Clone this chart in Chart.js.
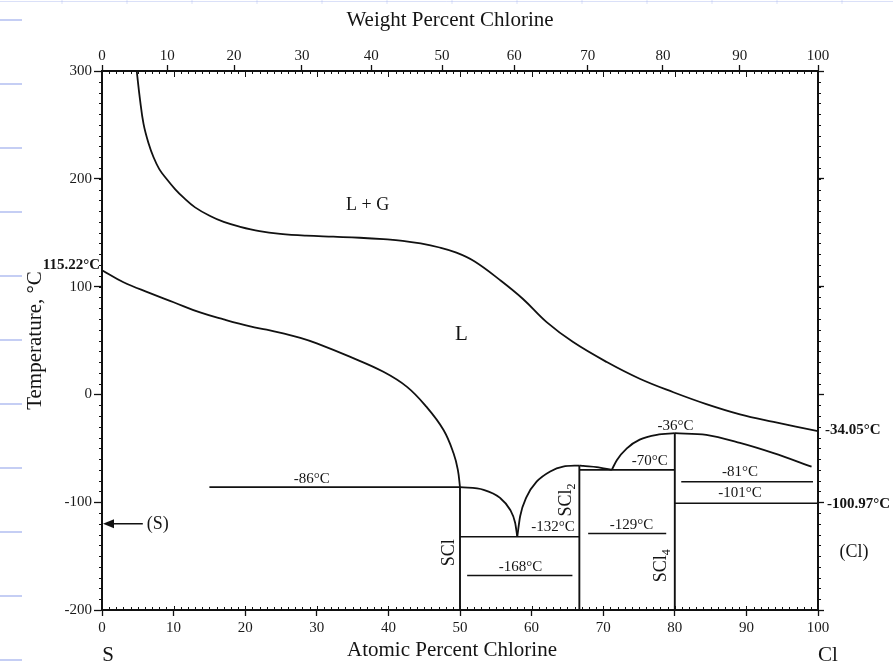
<!DOCTYPE html>
<html>
<head>
<meta charset="utf-8">
<script src="https://cdn.jsdelivr.net/npm/chart.js@4"></script>
<style>
html,body{margin:0;padding:0;background:#fff;}
#wrap{width:893px;height:666px;position:relative;}
</style>
</head>
<body>
<div id="wrap"><canvas id="c" width="893" height="666"></canvas></div>
<script>
// ---------- axis values ----------
const atomicRange = [0, 100];
const tempRange = [-200, 300];
const weightTickLabels = ['0','10','20','30','40','50','60','70','80','90','100'];
const weightTickAtomic = [0, 9.13, 18.44, 27.93, 37.62, 47.49, 57.57, 67.85, 78.35, 89.06, 100];

// ---------- curves (atomic % Cl, temperature °C) ----------
const gasLiquidusX = [4.85, 5.3, 5.8, 6.5, 7.2, 8.0, 9.0, 10.2, 11.4, 13.0, 15.1, 17.0, 19.3, 22.0, 24.9, 28.5, 32.3, 36.0, 39.3, 42.0, 44.5, 47.0, 49.5, 52.0, 55.6, 58.8, 62.1, 65.8, 70.5, 75.1, 79.8, 84.4, 89.1, 93.8, 100];
const gasLiquidusT = [300, 274, 251, 233, 220, 209, 200, 190.5, 182.5, 173.5, 165.5, 160, 155.5, 151.5, 149, 147.3, 146.3, 145.3, 144, 142.5, 140, 136.5, 131.5, 123.5, 106, 88.5, 67, 48.5, 30, 14.5, 2, -9, -18.5, -25.5, -34.05];

const sLiquidusX = [0, 3, 6.7, 10, 13.7, 17, 20.7, 23, 25.3, 27.7, 30, 34.6, 39.3, 42.6, 45.3, 47.7, 49.1, 49.7, 50];
const sLiquidusT = [115.22, 104, 94, 85.5, 76, 69.5, 63, 60, 56.5, 52.5, 47.4, 35, 21, 7, -11.4, -33, -54.6, -70, -86];

const sclLiquidusX = [50, 53.3, 55.6, 57.0, 57.7, 58.0];
const sclLiquidusT = [-86, -88.5, -96, -107, -119, -132];

const scl2LiquidusX = [58.0, 58.4, 59.3, 60.7, 62.6, 64.4, 66.67];
const scl2LiquidusT = [-132, -113, -95, -81, -71.5, -67, -66];

const periLiquidusX = [66.67, 67.2, 69.1, 71.2];
const periLiquidusT = [-66, -66.4, -67.5, -70];

const scl4LiquidusX = [71.2, 71.9, 73.3, 75.1, 77.5, 80];
const scl4LiquidusT = [-70, -61, -50, -42, -37.5, -36];

const clLiquidusX = [80, 84.4, 89.1, 93.8, 99.1];
const clLiquidusT = [-36, -37.5, -45, -54.5, -67];

// ---------- invariant lines ----------
const isothermT    = [-86, -132, -168, -129, -70, -81, -101];
const isothermFrom = [15, 50, 51, 67.9, 66.67, 80.9, 80];
const isothermTo   = [50, 66.67, 65.7, 78.8, 80, 99.3, 100];

const compoundNames = ['SCl', 'SCl2', 'SCl4'];
const compoundX     = [50, 66.67, 80];
const compoundTopT  = [-86, -66, -36];

const pureMeltT = [115.22, -34.05];       // S and Cl boiling points
const clTransitionT = [-100.97];
const sArrowT = [-120];

// ---------- label placement (layout, in axis units) ----------
const isoLabelPos = [[29.3, -78.4], [63.0, -123], [58.45, -160], [73.95, -121.2], [76.5, -61.8], [89.1, -72.4], [89.1, -91.5]];
const compoundLabelPos = [[48.3, -147], [64.7, -98], [77.9, -159]];

const INK = '#111111';
const SERIF = "'Liberation Serif','Times New Roman',serif";
Chart.defaults.font.family = SERIF;
Chart.defaults.color = '#1a1a1a';

function pts(xs, ts) { return xs.map((x, i) => ({ x: x, y: ts[i] })); }
function curve(data, smooth) {
  const d = { data, showLine: true, borderColor: INK, borderWidth: 1.8, pointRadius: 0, pointHoverRadius: 0, fill: false };
  if (smooth) { d.tension = 0.4; } else { d.cubicInterpolationMode = 'monotone'; }
  return d;
}
function straight(data, w) {
  return { data, showLine: true, borderColor: INK, borderWidth: w || 1.6, pointRadius: 0, pointHoverRadius: 0,
           fill: false, tension: 0 };
}

const datasets = [
  curve(pts(gasLiquidusX, gasLiquidusT), true),
  curve(pts(sLiquidusX, sLiquidusT), true),
  curve(pts(sclLiquidusX, sclLiquidusT)),
  curve(pts(scl2LiquidusX, scl2LiquidusT)),
  curve(pts(periLiquidusX, periLiquidusT)),
  curve(pts(scl4LiquidusX, scl4LiquidusT)),
  curve(pts(clLiquidusX, clLiquidusT))
];
isothermT.forEach((t, i) => datasets.push(straight([{ x: isothermFrom[i], y: t }, { x: isothermTo[i], y: t }], 1.6)));
compoundX.forEach((x, i) => datasets.push(straight([{ x: x, y: tempRange[0] }, { x: x, y: compoundTopT[i] }], 1.9)));
// (S) arrow shaft
datasets.push(straight([{ x: 5.7, y: sArrowT[0] }, { x: 1.2, y: sArrowT[0] }], 1.6));

const decor = {
  id: 'decor',
  beforeDraw(chart) {
    const ctx = chart.ctx;
    ctx.save();
    ctx.fillStyle = '#fff';
    ctx.fillRect(0, 0, chart.width, chart.height);
    // faint notebook marks in the margin
    ctx.strokeStyle = 'rgba(150,165,235,0.55)';
    ctx.lineWidth = 2;
    for (let y = 20; y < chart.height; y += 64) {
      ctx.beginPath(); ctx.moveTo(0, y); ctx.lineTo(22, y); ctx.stroke();
    }
    ctx.lineWidth = 1;
    ctx.strokeStyle = 'rgba(150,165,235,0.35)';
    ctx.beginPath(); ctx.moveTo(0, 1.5); ctx.lineTo(chart.width, 1.5); ctx.stroke();
    for (let x = 62; x < chart.width; x += 65) {
      ctx.beginPath(); ctx.moveTo(x, 0); ctx.lineTo(x, 4); ctx.stroke();
    }
    ctx.restore();
  },
  afterDraw(chart) {
    const ctx = chart.ctx;
    const xs = chart.scales.x, ys = chart.scales.y, a = chart.chartArea;
    const X = v => xs.getPixelForValue(v), Y = v => ys.getPixelForValue(v);
    ctx.save();
    // minor ticks
    ctx.strokeStyle = INK; ctx.lineWidth = 1;
    const seg = (x1, y1, x2, y2) => { ctx.beginPath(); ctx.moveTo(x1, y1); ctx.lineTo(x2, y2); ctx.stroke(); };
    for (let v = atomicRange[0]; v <= atomicRange[1]; v++) {
      const px = Math.round(X(v)) + 0.5;
      const major = v % 10 === 0;
      seg(px, a.bottom, px, a.bottom - (major ? 4 : 3));
      seg(px, a.top, px, a.top + (major ? 6 : 3));
    }
    for (let t = tempRange[0]; t <= tempRange[1]; t += 10) {
      const py = Math.round(Y(t)) + 0.5;
      seg(a.left - 3, py, a.left + 1, py);
      seg(a.right - 1, py, a.right + 3, py);
    }
    // arrow head for (S)
    const ay = Y(sArrowT[0]);
    ctx.fillStyle = INK;
    ctx.beginPath(); ctx.moveTo(a.left + 1, ay); ctx.lineTo(a.left + 12, ay - 4.5); ctx.lineTo(a.left + 12, ay + 4.5); ctx.closePath(); ctx.fill();

    ctx.fillStyle = '#141414';
    const txt = (s, x, y, size, opt) => {
      opt = opt || {};
      ctx.font = (opt.bold ? 'bold ' : '') + size + 'px ' + SERIF;
      ctx.textAlign = opt.align || 'center';
      ctx.textBaseline = 'middle';
      ctx.fillText(s, x, y);
    };
    // axis titles
    txt('Weight Percent Chlorine', 450, 20, 21);
    txt('Atomic Percent Chlorine', 452, 650, 21);
    ctx.save();
    ctx.translate(35, (a.top + a.bottom) / 2);
    ctx.rotate(-Math.PI / 2);
    txt('Temperature, °C', 0, 0, 21);
    ctx.restore();
    txt('S', X(0) + 6, 655, 21);
    txt('Cl', X(100) + 10, 655, 21);

    // region labels
    txt('L + G', X(37.1), Y(175.7), 18);
    txt('L', X(50.2), Y(56), 21);
    txt('(S)', X(7.8), Y(sArrowT[0]) + 1, 18);
    txt('(Cl)', X(100) + 36, Y(-146), 18);

    // isotherm labels
    isothermT.forEach((t, i) => txt(t + '°C', X(isoLabelPos[i][0]), Y(isoLabelPos[i][1]), 15));
    txt(compoundTopT[2] + '°C', X(80.1), Y(-29.3), 15);

    // pure component temperatures
    txt(pureMeltT[0].toFixed(2) + '°C', a.left - 2, Y(pureMeltT[0]) - 5, 15, { bold: true, align: 'right' });
    txt(pureMeltT[1].toFixed(2) + '°C', a.right + 7, Y(pureMeltT[1]) - 1, 15, { bold: true, align: 'left' });
    txt(clTransitionT[0].toFixed(2) + '°C', a.right + 9, Y(clTransitionT[0]) + 1, 15, { bold: true, align: 'left' });

    // compound labels (rotated, with subscripts)
    compoundNames.forEach((name, i) => {
      const base = name.replace(/\d+$/, '');
      const sub = name.slice(base.length);
      const size = 18, subSize = 12;
      ctx.save();
      ctx.translate(X(compoundLabelPos[i][0]), Y(compoundLabelPos[i][1]));
      ctx.rotate(-Math.PI / 2);
      ctx.font = size + 'px ' + SERIF;
      const w = ctx.measureText(base).width;
      ctx.font = subSize + 'px ' + SERIF;
      const ws = sub ? ctx.measureText(sub).width : 0;
      const start = -(w + ws) / 2;
      ctx.textAlign = 'left'; ctx.textBaseline = 'alphabetic';
      ctx.font = size + 'px ' + SERIF;
      ctx.fillText(base, start, size * 0.33);
      if (sub) { ctx.font = subSize + 'px ' + SERIF; ctx.fillText(sub, start + w, size * 0.33 + 4); }
      ctx.restore();
    });
    ctx.restore();
  }
};

new Chart(document.getElementById('c'), {
  type: 'scatter',
  data: { datasets },
  options: {
    responsive: false,
    animation: false,
    devicePixelRatio: 1,
    layout: { padding: 0 },
    plugins: { legend: { display: false }, tooltip: { enabled: false } },
    scales: {
      x: {
        type: 'linear', position: 'bottom', min: atomicRange[0], max: atomicRange[1],
        ticks: { stepSize: 10, font: { size: 15 }, padding: 3, maxRotation: 0, autoSkip: false, color: '#1a1a1a' },
        grid: { drawOnChartArea: false, tickLength: 6, color: INK, tickWidth: 1.3 },
        border: { color: INK, width: 2 },
        afterFit: s => { s.height = 56; }
      },
      x2: {
        type: 'linear', position: 'top', min: atomicRange[0], max: atomicRange[1],
        afterBuildTicks: s => { s.ticks = weightTickAtomic.map(v => ({ value: v })); },
        ticks: { callback: (v, i) => weightTickLabels[i], font: { size: 15 }, padding: 0, maxRotation: 0, autoSkip: false, color: '#1a1a1a' },
        grid: { drawOnChartArea: false, tickLength: 6, color: INK, tickWidth: 1.3 },
        border: { color: INK, width: 2 },
        afterFit: s => { s.height = 71; }
      },
      y: {
        type: 'linear', position: 'left', min: tempRange[0], max: tempRange[1],
        ticks: { stepSize: 100, font: { size: 15 }, padding: 2, color: '#1a1a1a' },
        grid: { drawOnChartArea: false, tickLength: 8, color: INK, tickWidth: 1.3 },
        border: { color: INK, width: 2 },
        afterFit: s => { s.width = 102; }
      },
      y2: {
        type: 'linear', position: 'right', min: tempRange[0], max: tempRange[1],
        ticks: { stepSize: 100, display: false },
        grid: { drawOnChartArea: false, tickLength: 6, color: INK, tickWidth: 1.3 },
        border: { color: INK, width: 2 },
        afterFit: s => { s.width = 75; }
      }
    }
  },
  plugins: [decor]
});
</script>
</body>
</html>
